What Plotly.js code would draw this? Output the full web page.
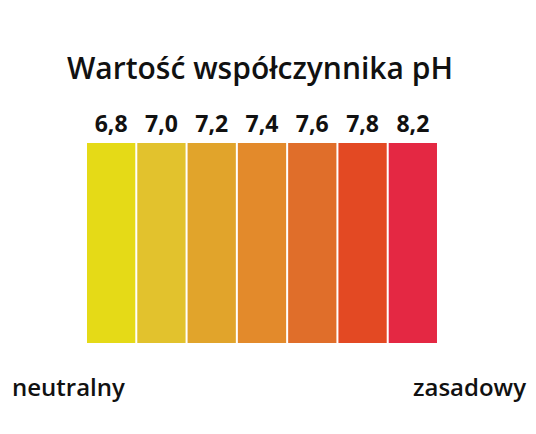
<!DOCTYPE html>
<html>
<head>
<meta charset="utf-8">
<script src="https://cdn.plot.ly/plotly-3.0.1.min.js"></script>
<style>html,body{margin:0;padding:0;background:#fff;}#chart{width:536px;height:434px;}</style>
</head>
<body>
<div id="chart"></div>
<script>
const phLabels = ["6,8", "7,0", "7,2", "7,4", "7,6", "7,8", "8,2"];
const barValues = [1, 1, 1, 1, 1, 1, 1];
const barColors = ["#E5DA17", "#E2C22D", "#E1A42B", "#E38A2B", "#E06E2A", "#E34923", "#E42843"];
const titleText = "Wartość współczynnika pH";
const leftLabel = "neutralny";
const rightLabel = "zasadowy";

const trace = {
  type: "bar",
  x: phLabels,
  y: barValues,
  marker: {color: barColors, line: {width: 0}},
  hoverinfo: "skip"
};

const layout = {
  width: 536, height: 434,
  margin: {l: 86, r: 98, t: 143, b: 91},
  paper_bgcolor: "#ffffff",
  plot_bgcolor: "#ffffff",
  showlegend: false,
  bargap: 0.04,
  title: {
    text: titleText,
    font: {family: "Open Sans", size: 30, color: "#111111", weight: 600},
    x: 0.485, xanchor: "center", xref: "container",
    y: 0.843, yanchor: "middle", yref: "container"
  },
  xaxis: {
    type: "category",
    side: "top",
    range: [-0.5, 6.5],
    showgrid: false, zeroline: false, showline: false,
    ticks: "",
    tickfont: {family: "Open Sans", size: 23, color: "#111111", weight: 700},
    ticklabelstandoff: 5,
    fixedrange: true
  },
  yaxis: {
    range: [0, 1],
    showgrid: false, zeroline: false, showline: false,
    showticklabels: false, ticks: "",
    fixedrange: true
  },
  annotations: [
    {text: leftLabel, xref: "paper", yref: "paper", x: -0.215, y: -0.215,
     xanchor: "left", yanchor: "middle", showarrow: false,
     font: {family: "Open Sans", size: 24, color: "#111111", weight: 600}},
    {text: rightLabel, xref: "paper", yref: "paper", x: 1.255, y: -0.215,
     xanchor: "right", yanchor: "middle", showarrow: false,
     font: {family: "Open Sans", size: 24, color: "#111111", weight: 600}}
  ]
};

Plotly.newPlot("chart", [trace], layout, {displayModeBar: false, staticPlot: true});
</script>
</body>
</html>
